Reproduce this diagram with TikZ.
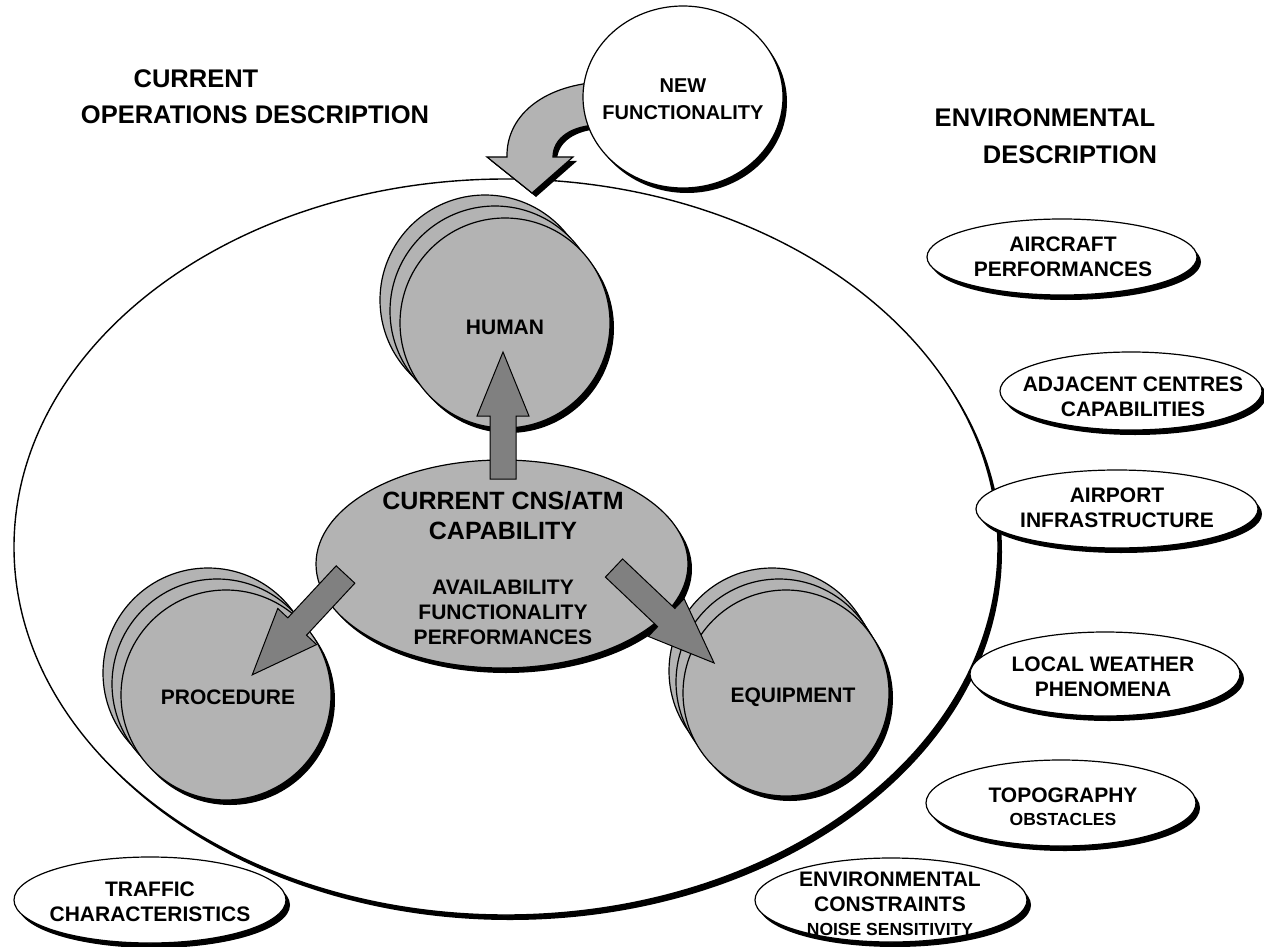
\documentclass[tikz,border=0pt]{standalone}
\usepackage{fontspec}
\setmainfont{Liberation Sans}
\usetikzlibrary{shapes.geometric,shadows}
\definecolor{cgray}{RGB}{179,179,179}
\definecolor{agray}{RGB}{128,128,128}
\begin{document}
\begin{tikzpicture}[x=1pt,y=-1pt,
  every node/.style={inner sep=0pt,outer sep=0pt},
  shad/.style={drop shadow={shadow xshift=4pt,shadow yshift=-5pt,fill=black,opacity=1}},
  envell/.style={ellipse,draw=black,line width=1.2pt,fill=white,shad},
  gcirc/.style={circle,draw=black,line width=1.2pt,fill=cgray,shad},
  lbl/.style={font=\fontsize{21}{25}\selectfont\bfseries,align=center,text=black},
  small/.style={font=\fontsize{17.5}{20}\selectfont\bfseries,align=center,text=black},
  hdr/.style={font=\fontsize{25.5}{36}\selectfont\bfseries,align=center,text=black},
  blockarrow/.style={fill=agray,draw=black,line width=1pt,line join=miter},
  nfpath/.style={insert path={(600,82) .. controls (540,86) and (506,118) .. (507,157) -- (487,157) -- (532,193) -- (573,157) -- (553,157) .. controls (553,138) and (572,125) .. (600,125) -- cycle}}
]
\useasboundingbox (0,0) rectangle (1264,947);

% headers
\node[hdr] (hdrA1) at (196,79) {CURRENT};
\node[hdr] (hdrA2) at (255,115) {OPERATIONS DESCRIPTION};
\node[hdr] (hdrB1) at (1045,118) {ENVIRONMENTAL};
\node[hdr] (hdrB2) at (1070,155) {DESCRIPTION};

% world ellipse
\node[ellipse,draw=black,line width=1.4pt,fill=white,shad,minimum width=984pt,minimum height=736pt] (world) at (506,547) {};

% curved arrow from new functionality
\begin{scope}[shift={(4,4)}]
  \fill[black,nfpath];
\end{scope}
\filldraw[fill=cgray,draw=black,line width=1.2pt,nfpath];

% new functionality
\node[envell,minimum width=200pt,minimum height=182pt] (newf) at (683,97) {};
\node[font=\fontsize{20}{27}\selectfont\bfseries,align=center] (newft) at (683,99) {NEW\\FUNCTIONALITY};

% human stack
\node[gcirc,minimum size=210pt] (hum3) at (485,300) {};
\node[gcirc,minimum size=210pt] (hum2) at (495,311) {};
\node[gcirc,minimum size=210pt] (hum) at (505,323) {};
\node[lbl] (humt) at (505,327) {HUMAN};

% procedure stack
\node[gcirc,minimum size=210pt] (pro3) at (208,673) {};
\node[gcirc,minimum size=210pt] (pro2) at (217,684) {};
\node[gcirc,minimum size=210pt] (pro) at (226,695) {};
\node[lbl] (prot) at (228,697) {PROCEDURE};

% equipment stack
\node[gcirc,minimum size=206pt] (equ3) at (772,671) {};
\node[gcirc,minimum size=206pt] (equ2) at (779,682) {};
\node[gcirc,minimum size=206pt] (equ) at (786,693) {};
\node[lbl] (equt) at (793,697) {EQUIPMENT};

% central capability ellipse
\node[ellipse,draw=black,line width=1.2pt,fill=cgray,shad,minimum width=372pt,minimum height=208pt] (cap) at (502,564) {};
\node[font=\fontsize{25}{30}\selectfont\bfseries,align=center] (capt) at (503,516) {CURRENT CNS/ATM\\CAPABILITY};
\node[lbl] (capt2) at (503,612) {AVAILABILITY\\FUNCTIONALITY\\PERFORMANCES};

% block arrows
\begin{scope}[shift={(503,479)},rotate=90]
  \filldraw[blockarrow] (0,-13) -- (63,-13) -- (63,-26) -- (127,0) -- (63,26) -- (63,13) -- (0,13) -- cycle;
\end{scope}
\begin{scope}[shift={(345.5,574.5)},rotate=-132.9]
  \filldraw[blockarrow] (0,-12.75) -- (71,-12.75) -- (71,-26.5) -- (137,0) -- (71,26.5) -- (71,12.75) -- (0,12.75) -- cycle;
\end{scope}
\begin{scope}[shift={(614,568)},rotate=-43.5]
  \filldraw[blockarrow] (0,-12.5) -- (72,-12.5) -- (72,-26) -- (138,0) -- (72,26) -- (72,12.5) -- (0,12.5) -- cycle;
\end{scope}

% environment ellipses
\node[envell,minimum width=270pt,minimum height=76pt] (air) at (1062,257) {};
\node[lbl] (airt) at (1063,257) {AIRCRAFT\\PERFORMANCES};

\node[envell,minimum width=262pt,minimum height=78pt] (adj) at (1131,391) {};
\node[lbl] (adjt) at (1133,397) {ADJACENT CENTRES\\CAPABILITIES};

\node[envell,minimum width=282pt,minimum height=78pt] (apt) at (1117,509) {};
\node[lbl] (aptt) at (1117,508) {AIRPORT\\INFRASTRUCTURE};

\node[envell,minimum width=270pt,minimum height=84pt] (wx) at (1105,674) {};
\node[lbl] (wxt) at (1103,677) {LOCAL WEATHER\\PHENOMENA};

\node[envell,minimum width=270pt,minimum height=86pt] (topo) at (1061,803) {};
\node[lbl] (topot) at (1063,795) {TOPOGRAPHY};
\node[small] (topos) at (1063,819) {OBSTACLES};

\node[envell,minimum width=272pt,minimum height=84pt] (envc) at (891,900) {};
\node[lbl] (envct) at (890,892) {ENVIRONMENTAL\\CONSTRAINTS};
\node[small] (envcs) at (890,929) {NOISE SENSITIVITY};

\node[envell,minimum width=272pt,minimum height=86pt] (traf) at (150,900) {};
\node[lbl] (traft) at (150,902) {TRAFFIC\\CHARACTERISTICS};

\end{tikzpicture}
\end{document}
